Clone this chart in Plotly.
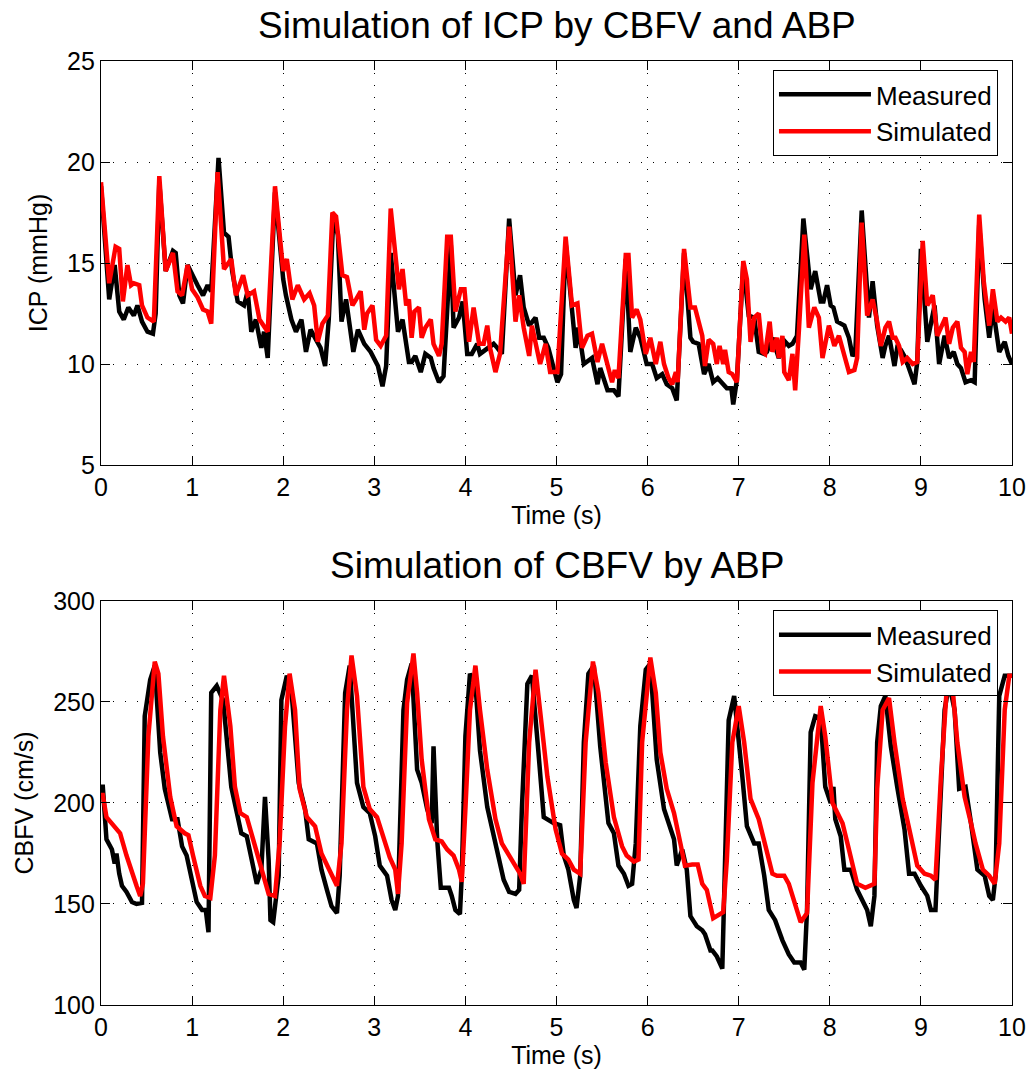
import plotly.graph_objects as go

# ---------------- ICP (top) ----------------
icp_meas_t = [0.00,0.09,0.15,0.20,0.25,0.30,0.36,0.40,0.45,0.51,0.57,0.60,0.64,0.71,0.79,0.82,0.86,0.90,0.95,1.02,1.06,1.12,1.17,1.21,1.29,1.35,1.40,1.44,1.50,1.57,1.61,1.65,1.70,1.76,1.79,1.83,1.91,2.00,2.03,2.09,2.14,2.20,2.25,2.30,2.41,2.46,2.50,2.55,2.60,2.64,2.69,2.77,2.82,2.89,2.96,3.04,3.09,3.13,3.18,3.26,3.31,3.38,
              3.41,3.45,3.51,3.56,3.62,3.65,3.71,3.76,3.84,3.87,3.93,3.97,4.02,4.07,4.13,4.16,4.24,4.31,4.35,4.40,4.48,4.55,4.60,4.64,4.70,4.77,4.81,4.86,4.91,4.97,5.01,5.05,5.10,5.21,5.24,5.30,5.39,5.45,5.48,5.56,5.63,5.68,5.76,5.81,5.87,5.92,5.99,6.05,6.10,6.16,6.21,6.27,6.32,6.40,6.47,6.50,6.56,6.62,6.67,
              6.72,6.77,6.81,6.87,6.92,6.94,6.98,7.05,7.11,7.17,7.22,7.28,7.31,7.37,7.44,7.51,7.55,7.59,7.64,7.71,7.79,7.84,7.90,7.93,7.97,8.01,8.04,8.08,8.16,8.21,8.25,8.28,8.35,8.43,8.47,8.52,8.58,8.61,8.65,8.71,8.74,8.78,8.83,8.87,8.93,8.96,9.00,9.07,9.15,9.20,9.26,9.31,9.36,9.40,9.44,9.49,9.55,9.59,9.64,9.70,9.75,9.79,9.86,9.92,9.96,10.0]
icp_meas = [18.8,13.2,14.9,12.6,12.2,12.8,12.4,12.9,12.1,11.6,11.5,12.5,19.0,14.6,15.6,15.5,13.4,13.0,14.9,14.2,13.9,13.4,13.9,13.6,20.2,16.5,16.3,14.6,13.1,12.9,13.6,11.6,12.2,10.8,11.6,10.3,18.5,14.2,13.4,12.2,11.6,12.2,10.6,11.7,10.8,9.9,12.2,17.2,16.4,12.1,13.2,10.6,11.7,11.0,10.6,9.9,8.9,9.9,15.5,11.6,12.2,10.1,
            10.1,10.4,9.6,10.5,10.3,9.8,9.1,9.4,15.9,11.8,12.3,13.1,10.5,10.5,11.0,10.5,10.8,11.0,10.8,10.5,17.2,13.4,14.4,12.8,11.9,12.3,11.3,11.3,10.8,9.8,9.1,9.5,16.0,10.8,11.8,10.0,10.3,9.0,9.8,8.7,8.7,8.4,15.2,10.6,11.8,11.3,10.0,10.0,9.3,9.5,9.0,8.8,8.2,15.5,11.3,11.1,11.0,9.5,10.0,
            9.1,9.3,9.1,8.8,8.8,8.0,9.2,14.9,12.4,12.3,10.6,10.5,10.6,11.3,10.3,11.1,10.9,11.0,11.4,17.2,13.7,14.6,13.1,13.1,13.9,12.9,12.8,12.1,11.9,11.3,10.4,10.6,17.6,12.3,14.1,11.9,10.3,10.9,11.4,9.9,10.8,10.7,10.3,9.8,9.0,10.1,15.7,11.1,12.9,10.0,11.4,10.3,10.6,10.0,9.8,9.1,9.2,9.1,16.9,13.2,11.3,12.8,10.6,11.1,10.4,10.0]

icp_sim_t = [0.00,0.09,0.16,0.20,0.24,0.29,0.33,0.36,0.42,0.45,0.51,0.58,0.64,0.71,0.79,0.84,0.89,0.95,1.00,1.06,1.12,1.17,1.21,1.28,1.35,1.43,1.48,1.56,1.61,1.68,1.74,1.79,1.83,1.91,2.00,2.04,2.10,2.16,2.23,2.29,2.34,2.38,2.43,2.49,2.54,2.58,2.65,2.70,2.76,2.80,2.85,2.89,2.92,2.98,3.02,3.07,3.13,3.18,3.22,3.27,3.31,3.35,
             3.38,3.41,3.44,3.49,3.52,3.56,3.62,3.65,3.71,3.74,3.80,3.84,3.89,3.95,3.99,4.04,4.09,4.15,4.20,4.24,4.27,4.33,4.38,4.48,4.55,4.59,4.64,4.70,4.73,4.77,4.82,4.88,4.93,5.01,5.10,5.17,5.23,5.28,5.34,5.39,5.45,5.50,5.56,5.61,5.64,5.68,5.76,5.79,5.83,5.88,5.92,5.98,6.03,6.09,6.14,6.18,6.23,6.27,6.31,6.33,6.40,6.47,6.52,6.56,6.60,6.63,
             6.67,6.72,6.76,6.79,6.83,6.85,6.89,6.93,6.98,7.05,7.09,7.13,7.17,7.22,7.26,7.29,7.34,7.37,7.42,7.44,7.48,7.50,7.55,7.59,7.62,7.66,7.72,7.77,7.83,7.88,7.92,7.99,8.05,8.10,8.16,8.21,8.27,8.30,8.35,8.41,8.47,8.52,8.56,8.61,8.65,8.69,8.72,8.76,8.80,8.85,8.91,8.96,9.02,9.07,9.13,9.18,9.22,9.27,9.31,9.35,9.40,9.44,9.48,9.51,9.55,9.58,9.64,9.69,9.75,9.79,9.84,9.88,9.93,9.97,10.0]
icp_sim = [19.0,14.0,15.8,15.7,13.1,14.9,13.9,14.0,13.9,12.9,12.3,12.1,19.3,14.6,15.5,13.6,13.4,14.9,13.7,13.3,12.7,12.6,12.0,19.5,14.7,15.2,13.4,14.4,13.4,13.6,12.2,11.9,11.6,18.8,14.6,15.2,13.2,13.9,13.2,13.5,12.9,11.1,12.0,12.4,17.5,17.3,14.4,14.3,12.9,13.2,13.6,11.7,12.5,12.9,11.2,10.9,11.4,17.7,15.7,13.7,14.7,12.9,
           13.2,11.3,12.6,12.8,11.3,11.8,12.2,11.0,10.4,11.0,16.3,16.3,12.6,13.7,13.7,11.1,12.8,11.0,11.0,11.9,10.8,9.6,10.5,16.8,12.1,13.4,11.8,10.4,11.9,11.1,10.0,11.0,9.6,9.6,16.3,12.9,13.0,10.8,11.4,11.5,10.1,11.0,10.0,9.1,9.7,9.3,15.4,15.4,12.3,12.7,12.2,10.5,11.3,10.0,11.1,10.0,9.3,9.0,9.6,9.1,15.7,12.8,12.8,12.0,11.4,9.9,
           11.2,11.0,10.0,10.9,10.0,10.7,9.6,9.5,9.1,15.1,14.2,11.1,12.3,12.5,10.6,10.5,12.1,10.6,11.3,10.3,11.4,9.6,9.2,10.5,8.7,11.6,16.4,11.8,12.8,12.3,10.3,11.9,10.9,11.4,10.5,9.6,9.7,10.3,17.0,12.4,13.2,12.1,10.9,11.8,12.1,11.3,11.3,10.9,10.1,10.3,10.0,10.1,16.1,12.9,13.4,11.4,11.8,12.3,11.0,11.8,12.1,10.8,10.6,9.5,10.6,10.1,17.4,14.1,11.9,13.7,12.1,12.3,12.1,12.3,11.5]

# ---------------- CBFV (bottom) ----------------
cbfv_meas_t = [0.00,0.02,0.06,0.12,0.15,0.17,0.20,0.23,0.28,0.34,0.39,0.45,0.48,0.54,0.59,0.65,0.70,0.78,0.84,0.89,0.94,1.00,1.05,1.11,1.15,1.18,1.21,1.27,1.34,1.43,1.54,1.60,1.65,1.71,1.76,1.80,1.84,1.86,1.89,1.95,1.98,2.04,2.09,2.17,2.24,2.28,2.37,2.42,2.48,2.53,2.59,2.62,2.68,2.73,2.81,2.88,2.95,3.01,3.06,3.14,3.19,3.23,3.26,3.32,
               3.36,3.41,3.47,3.52,3.58,3.63,3.65,3.69,3.73,3.82,3.85,3.89,3.94,3.96,4.00,4.05,4.11,4.16,4.24,4.35,4.42,4.48,4.55,4.59,4.62,4.68,4.73,4.80,4.86,4.97,5.04,5.08,5.13,5.19,5.22,5.26,5.30,5.35,5.41,5.48,5.57,5.63,5.68,5.74,5.79,5.83,5.87,5.92,5.98,6.03,6.10,6.18,6.23,6.29,6.32,6.38,6.43,6.47,6.54,6.60,6.63,6.69,
               6.71,6.76,6.82,6.85,6.89,6.95,7.00,7.04,7.09,7.17,7.22,7.28,7.33,7.40,7.48,7.55,7.61,7.68,7.72,7.75,7.79,7.84,7.90,7.95,8.01,8.04,8.06,8.12,8.16,8.23,8.30,8.38,8.41,8.45,8.49,8.52,8.56,8.61,8.67,8.74,8.82,8.87,8.93,9.00,9.07,9.11,9.16,9.20,9.26,9.31,9.37,9.42,9.49,9.55,9.62,9.70,9.75,9.79,9.82,9.86,9.92,10.0]
cbfv_meas = [208,208,182,177,170,175,165,159,156,151,150,150.5,243,261,268,225,207,192,192,178.5,174,160,151,147,147,136,254.5,258,251,208,185,183.5,173,160,167,203,172,142,141,164,251,263,256,210,197,182,180,167,157,149,145.5,164,254.5,268,210,198,195,183.5,169,164,152,147,154,246,
             261,269,216.5,210,197,190,228,182,158,158,154,147,145,164,233,264,259,226,198,177,162,156,155,157,197,259,263,226,193,190,189,174,167,152,148,164,230,264,268,228,190,185,169,165,159,160,180,238,266,269,221.5,197,190,182,169,177,167,144,139,137,135,127,
             127,124,118,164,241,253,233,213,188.5,180,180,164,147,142,132,125,121,121,117.5,147,235,243,242,208,200,208,192,183.5,167,167,157,150.5,147,139,154,230,248,253,228,208,187,165,165,159,154,147,147,187,246,259,246,207,208,190,167,164,154,152,164,253,263,263]

cbfv_sim_t = [0.00,0.02,0.06,0.14,0.21,0.28,0.34,0.39,0.43,0.46,0.52,0.59,0.63,0.68,0.76,0.83,0.92,0.96,1.01,1.09,1.14,1.20,1.25,1.31,1.35,1.42,1.47,1.53,1.60,1.65,1.71,1.78,1.84,1.91,1.96,2.02,2.07,2.13,2.18,2.26,2.35,2.42,2.51,2.59,2.64,2.70,2.75,2.81,2.88,2.95,3.03,3.10,3.17,3.23,3.26,3.30,3.36,
              3.43,3.47,3.52,3.60,3.67,3.74,3.80,3.87,3.93,3.96,4.00,4.05,4.11,4.16,4.24,4.33,4.40,4.48,4.55,4.60,4.64,4.70,4.77,4.82,4.90,4.99,5.06,5.13,5.19,5.26,5.32,5.40,5.46,5.54,5.63,5.72,5.77,5.85,5.90,5.94,6.03,6.09,6.14,6.21,6.29,6.36,6.41,6.49,6.55,6.60,6.65,6.69,
              6.72,6.83,6.87,6.93,7.00,7.06,7.13,7.22,7.31,7.37,7.42,7.50,7.55,7.62,7.68,7.75,7.81,7.90,7.95,8.03,8.14,8.21,8.30,8.39,8.49,8.52,8.58,8.65,8.71,8.80,8.89,8.96,9.04,9.11,9.16,9.22,9.29,9.34,9.40,9.48,9.55,9.60,9.68,9.75,9.81,9.86,9.92,9.97,10.0]
cbfv_sim = [204,204,193,189,185,174,165,159,154,160,233,270,264,233,203,188.5,185,184,174,159,154,153,174,246,263,238,208,195,193,185,175,164,155,154,180,238,264,246,207,193,188.5,175,167,159,180,246,273,253,208,197,193,182,173,167,155,180,249.5,
            274,254.5,221.5,192,182,181,177,174,167,161,197,246,268,246,216.5,192,180,174,169.5,165,160,230,266,246,213,187,175,172,167,165,230,270,254.5,220,193,178.5,174,171,172,230,272,254.5,225,207,195,180,169,169.5,169.5,160,157,149,
            143,146,172,230,248,230,202,192,177,165,164,164,160,149,141,145.5,210,248,233,200,190,177,160,158,160,207,246,252,230,202,183.5,169,165,164,162,213,261,261,230,203,190,180,167,164,160,180,246,263,263]

series_names = ["Measured", "Simulated"]
series_colors = ["#000000", "#ff0000"]
titles = ["Simulation of ICP by CBFV and ABP", "Simulation of CBFV by ABP"]
ylabels = ["ICP (mmHg)", "CBFV (cm/s)"]
xlabel = "Time (s)"

FONT = "Liberation Sans, Arial, Helvetica, sans-serif"
LW = 4.5

fig = go.Figure()
fig.add_trace(go.Scatter(x=icp_meas_t, y=icp_meas, mode="lines", name=series_names[0],
                         line=dict(color=series_colors[0], width=LW), xaxis="x", yaxis="y", legend="legend"))
fig.add_trace(go.Scatter(x=icp_sim_t, y=icp_sim, mode="lines", name=series_names[1],
                         line=dict(color=series_colors[1], width=LW), xaxis="x", yaxis="y", legend="legend"))
fig.add_trace(go.Scatter(x=cbfv_meas_t, y=cbfv_meas, mode="lines", name=series_names[0],
                         line=dict(color=series_colors[0], width=LW), xaxis="x2", yaxis="y2", legend="legend2"))
fig.add_trace(go.Scatter(x=cbfv_sim_t, y=cbfv_sim, mode="lines", name=series_names[1],
                         line=dict(color=series_colors[1], width=LW), xaxis="x2", yaxis="y2", legend="legend2"))

axis_common = dict(
    showline=True, linecolor="black", linewidth=1.3, mirror="ticks",
    ticks="inside", ticklen=9, tickwidth=1.3, tickcolor="black",
    showgrid=True, gridcolor="black", gridwidth=1, griddash="1px,11px",
    zeroline=False, automargin=False, tickfont=dict(family=FONT, size=25, color="black"),
)

legend_common = dict(
    x=0.9846, xanchor="right", yanchor="top",
    bgcolor="white", bordercolor="black", borderwidth=1,
    font=dict(family=FONT, size=26, color="black"), itemwidth=92, tracegroupgap=0,
)

fig.update_layout(
    width=1029, height=1076, autosize=False,
    margin=dict(l=101, r=17, t=61, b=71),
    paper_bgcolor="white", plot_bgcolor="white",
    font=dict(family=FONT, color="black"),
    xaxis=dict(domain=[0, 1], range=[0, 10], dtick=1, anchor="y",
               title=dict(text=xlabel, font=dict(size=25), standoff=4), **axis_common),
    yaxis=dict(domain=[0.572, 1], range=[5, 25], dtick=5, anchor="x",
               title=dict(text=ylabels[0], font=dict(size=25), standoff=12), **axis_common),
    xaxis2=dict(domain=[0, 1], range=[0, 10], dtick=1, anchor="y2",
                title=dict(text=xlabel, font=dict(size=25), standoff=4), **axis_common),
    yaxis2=dict(domain=[0, 0.428], range=[100, 300], dtick=50, anchor="x2",
                title=dict(text=ylabels[1], font=dict(size=25), standoff=12), **axis_common),
    legend=dict(y=0.9905, **legend_common),
    legend2=dict(y=0.418, **legend_common),
    annotations=[
        dict(text=titles[0], xref="paper", yref="paper", x=0.5, y=1.0, xanchor="center", yanchor="bottom",
             yshift=13, showarrow=False, font=dict(family=FONT, size=37, color="black")),
        dict(text=titles[1], xref="paper", yref="paper", x=0.5, y=0.428, xanchor="center", yanchor="bottom",
             yshift=13, showarrow=False, font=dict(family=FONT, size=37, color="black")),
    ],
)

fig.write_html("out.html")
